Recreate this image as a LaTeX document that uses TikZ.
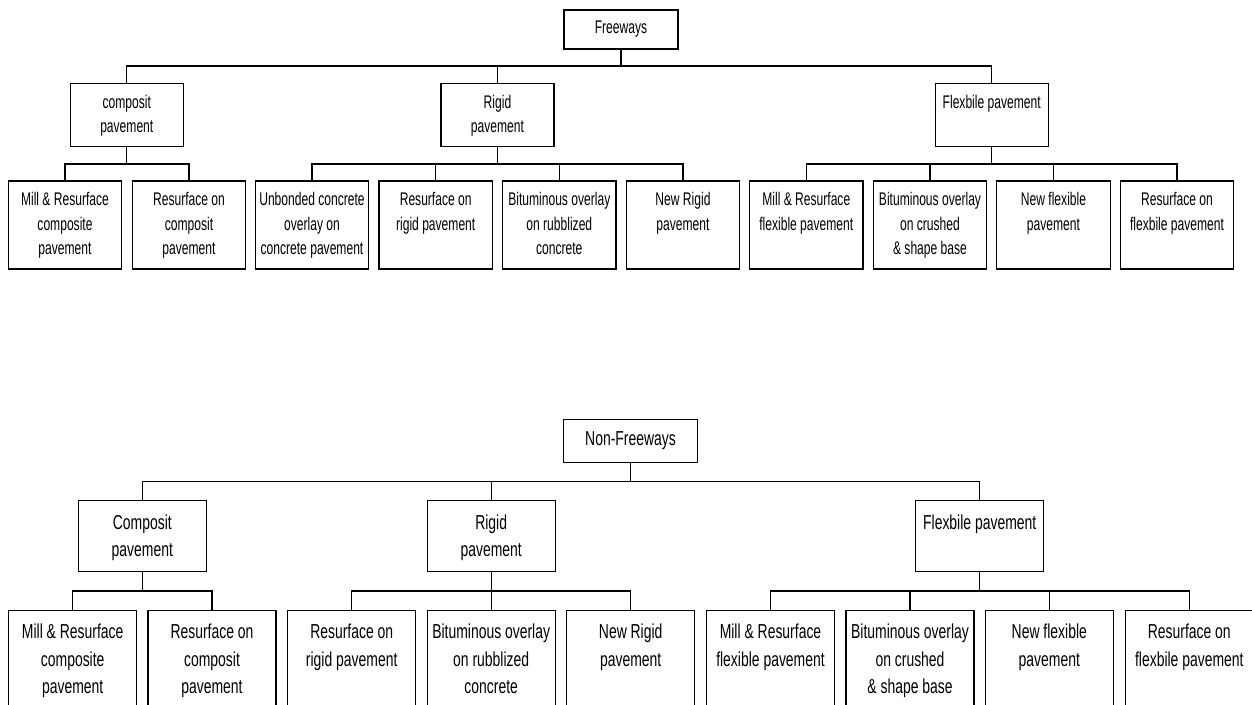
\documentclass[tikz,border=0pt]{standalone}
\usepackage{fontspec}
\newfontfamily\ftop[FakeStretch=0.66]{Liberation Sans}
\newfontfamily\fbot[FakeStretch=0.69]{Liberation Sans}
\newcommand{\tbx}[4]{\parbox[c][#2pt][t]{#1pt}{\centering\vspace*{#3pt}\strut #4}}
\tikzset{
  boxT/.style={draw=black, line width=1.1pt, inner sep=0pt, font=\ftop\fontsize{18.3}{24.5}\selectfont},
  boxB/.style={draw=black, line width=1.1pt, inner sep=0pt, font=\fbot\fontsize{20.2}{27.4}\selectfont},
  wire/.style={draw=black, line width=1.1pt},
}
\begin{document}
\begin{tikzpicture}[x=1pt,y=-1pt]
\useasboundingbox (0,0) rectangle (1252,704);
\clip (0,0) rectangle (1252,704);
\fill[white] (0,0) rectangle (1252,704);

% ---------------- Top tree: Freeways ----------------
\node[boxT, minimum width=114pt, minimum height=39pt] (F) at (621,29.5) {Freeways};
\node[boxT] (cT) at (126.8,115) {\tbx{113}{63.4}{7.8}{composit\\pavement}};
\node[boxT] (rT) at (497.5,115) {\tbx{113}{63.4}{7.8}{Rigid\\pavement}};
\node[boxT] (fT) at (991.7,115) {\tbx{113}{63.4}{7.8}{Flexbile pavement}};

\node[boxT] (t1) at (65,225) {\tbx{113.4}{88}{7.8}{Mill \& Resurface\\composite\\pavement}};
\node[boxT] (t2) at (189,225) {\tbx{113.4}{88}{7.8}{Resurface on\\composit\\pavement}};
\node[boxT] (t3) at (312,225) {\tbx{113.4}{88}{7.8}{Unbonded concrete\\overlay on\\concrete pavement}};
\node[boxT] (t4) at (435.7,225) {\tbx{113.4}{88}{7.8}{Resurface on\\rigid pavement}};
\node[boxT] (t5) at (559.3,225) {\tbx{113.4}{88}{7.8}{Bituminous overlay\\on rubblized\\concrete}};
\node[boxT] (t6) at (683,225) {\tbx{113.4}{88}{7.8}{New Rigid\\pavement}};
\node[boxT] (t7) at (806.3,225) {\tbx{113.4}{88}{7.8}{Mill \& Resurface\\flexible pavement}};
\node[boxT] (t8) at (930,225) {\tbx{113.4}{88}{7.8}{Bituminous overlay\\on crushed\\\& shape base}};
\node[boxT] (t9) at (1053.5,225) {\tbx{113.4}{88}{7.8}{New flexible\\pavement}};
\node[boxT] (t10) at (1177,225) {\tbx{113.4}{88}{7.8}{Resurface on\\flexbile pavement}};

\coordinate (jF) at (621,66);
\draw[wire] (F.south) -- (jF);
\draw[wire] (cT.north) |- (jF) -| (fT.north);
\draw[wire] (rT.north) -- (rT.north |- jF);

\coordinate (jcT) at (126.8,164);
\draw[wire] (cT.south) -- (jcT);
\draw[wire] (t1.north) |- (jcT) -| (t2.north);

\coordinate (jrT) at (497.5,164);
\draw[wire] (rT.south) -- (jrT);
\draw[wire] (t3.north) |- (jrT) -| (t6.north);
\draw[wire] (t4.north) -- (t4.north |- jrT);
\draw[wire] (t5.north) -- (t5.north |- jrT);

\coordinate (jfT) at (991.7,164);
\draw[wire] (fT.south) -- (jfT);
\draw[wire] (t7.north) |- (jfT) -| (t10.north);
\draw[wire] (t8.north) -- (t8.north |- jfT);
\draw[wire] (t9.north) -- (t9.north |- jfT);

% ---------------- Bottom tree: Non-Freeways ----------------
\node[boxB, minimum width=134.4pt, minimum height=43.3pt] (NF) at (630.5,440.7) {Non-Freeways};
\node[boxB] (cB) at (142.3,536.2) {\tbx{128}{71}{9.3}{Composit\\pavement}};
\node[boxB] (rB) at (491.2,536.2) {\tbx{128}{71}{9.3}{Rigid\\pavement}};
\node[boxB] (fB) at (979.7,536.2) {\tbx{128}{71}{9.3}{Flexbile pavement}};

\node[boxB] (b1) at (72.7,660.3) {\tbx{128}{100}{9.3}{Mill \& Resurface\\composite\\pavement}};
\node[boxB] (b2) at (212,660.3) {\tbx{128}{100}{9.3}{Resurface on\\composit\\pavement}};
\node[boxB] (b3) at (351.7,660.3) {\tbx{128}{100}{9.3}{Resurface on\\rigid pavement}};
\node[boxB] (b4) at (491.2,660.3) {\tbx{128}{100}{9.3}{Bituminous overlay\\on rubblized\\concrete}};
\node[boxB] (b5) at (630.7,660.3) {\tbx{128}{100}{9.3}{New Rigid\\pavement}};
\node[boxB] (b6) at (770.5,660.3) {\tbx{128}{100}{9.3}{Mill \& Resurface\\flexible pavement}};
\node[boxB] (b7) at (910,660.3) {\tbx{128}{100}{9.3}{Bituminous overlay\\on crushed\\\& shape base}};
\node[boxB] (b8) at (1049.3,660.3) {\tbx{128}{100}{9.3}{New flexible\\pavement}};
\node[boxB] (b9) at (1189.3,660.3) {\tbx{128}{100}{9.3}{Resurface on\\flexbile pavement}};

\coordinate (jNF) at (630.5,481.3);
\draw[wire] (NF.south) -- (jNF);
\draw[wire] (cB.north) |- (jNF) -| (fB.north);
\draw[wire] (rB.north) -- (rB.north |- jNF);

\coordinate (jcB) at (142.3,591);
\draw[wire] (cB.south) -- (jcB);
\draw[wire] (b1.north) |- (jcB) -| (b2.north);

\coordinate (jrB) at (491.2,591);
\draw[wire] (rB.south) -- (b4.north);
\draw[wire] (b3.north) |- (jrB) -| (b5.north);

\coordinate (jfB) at (979.7,591);
\draw[wire] (fB.south) -- (jfB);
\draw[wire] (b6.north) |- (jfB) -| (b9.north);
\draw[wire] (b7.north) -- (b7.north |- jfB);
\draw[wire] (b8.north) -- (b8.north |- jfB);
\end{tikzpicture}
\end{document}
